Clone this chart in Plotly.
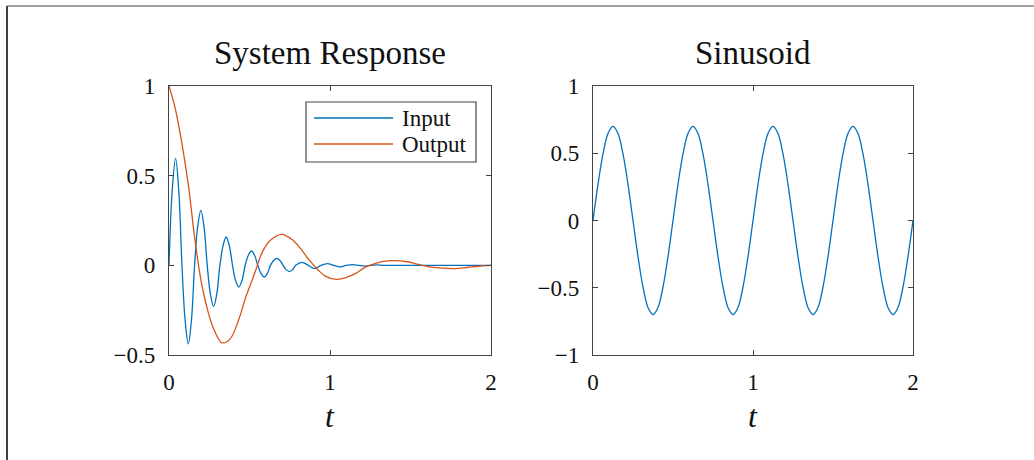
import plotly.graph_objects as go

W, H = 1034, 460

# ---------------- data ----------------
t_input = [0.000, 0.020, 0.041, 0.061, 0.0805, 0.100, 0.120, 0.140, 0.159, 0.178,
           0.198, 0.218, 0.2375, 0.257, 0.277, 0.297, 0.316, 0.336, 0.355, 0.375,
           0.3945, 0.414, 0.434, 0.454, 0.473, 0.493, 0.512, 0.532, 0.5515, 0.571,
           0.591, 0.611, 0.630, 0.650, 0.669, 0.689, 0.7085, 0.728, 0.748, 0.768,
           0.787, 0.826, 0.8655, 0.905, 0.944, 0.983, 1.0225, 1.062, 1.101, 1.140,
           1.1795, 1.219, 1.258, 1.297, 1.336, 1.500, 1.750, 2.000]
input_vals = [0.000, 0.420, 0.596, 0.410, 0.000, -0.305, -0.438, -0.300, 0.000, 0.215,
              0.307, 0.212, 0.000, -0.160, -0.229, -0.158, 0.000, 0.110, 0.158, 0.108,
              0.000, -0.085, -0.121, -0.083, 0.000, 0.056, 0.080, 0.055, 0.000, -0.045,
              -0.065, -0.045, 0.000, 0.027, 0.039, 0.027, 0.000, -0.024, -0.035, -0.024,
              0.000, 0.017, 0.000, -0.018, 0.000, 0.009, 0.000, -0.009, 0.000, 0.004,
              0.000, -0.004, 0.000, 0.002, 0.000, 0.000, 0.000, 0.000]

t_output = [0.00, 0.04, 0.08, 0.12, 0.16, 0.20, 0.24, 0.28, 0.33, 0.38, 0.43, 0.48,
            0.53, 0.58, 0.63, 0.70, 0.77, 0.82, 0.87, 0.92, 0.97, 1.04, 1.11, 1.16,
            1.22, 1.28, 1.33, 1.40, 1.48, 1.55, 1.62, 1.70, 1.77, 1.85, 1.92, 2.00]
output_vals = [1.000, 0.870, 0.680, 0.450, 0.150, -0.090, -0.250, -0.360, -0.432, -0.410,
               -0.310, -0.170, -0.050, 0.075, 0.140, 0.173, 0.140, 0.090, 0.030, -0.020,
               -0.060, -0.078, -0.065, -0.045, -0.010, 0.010, 0.022, 0.026, 0.020, 0.005,
               -0.008, -0.016, -0.018, -0.012, -0.005, 0.000]

t_sin = [0.0, 0.03125, 0.0625, 0.09375, 0.125, 0.15625, 0.1875, 0.21875,
         0.25, 0.28125, 0.3125, 0.34375, 0.375, 0.40625, 0.4375, 0.46875,
         0.5, 0.53125, 0.5625, 0.59375, 0.625, 0.65625, 0.6875, 0.71875,
         0.75, 0.78125, 0.8125, 0.84375, 0.875, 0.90625, 0.9375, 0.96875,
         1.0, 1.03125, 1.0625, 1.09375, 1.125, 1.15625, 1.1875, 1.21875,
         1.25, 1.28125, 1.3125, 1.34375, 1.375, 1.40625, 1.4375, 1.46875,
         1.5, 1.53125, 1.5625, 1.59375, 1.625, 1.65625, 1.6875, 1.71875,
         1.75, 1.78125, 1.8125, 1.84375, 1.875, 1.90625, 1.9375, 1.96875, 2.0]
sin_vals = [0.0, 0.268, 0.495, 0.647, 0.7, 0.647, 0.495, 0.268,
            0.0, -0.268, -0.495, -0.647, -0.7, -0.647, -0.495, -0.268,
            0.0, 0.268, 0.495, 0.647, 0.7, 0.647, 0.495, 0.268,
            0.0, -0.268, -0.495, -0.647, -0.7, -0.647, -0.495, -0.268,
            0.0, 0.268, 0.495, 0.647, 0.7, 0.647, 0.495, 0.268,
            0.0, -0.268, -0.495, -0.647, -0.7, -0.647, -0.495, -0.268,
            0.0, 0.268, 0.495, 0.647, 0.7, 0.647, 0.495, 0.268,
            0.0, -0.268, -0.495, -0.647, -0.7, -0.647, -0.495, -0.268, 0.0]

x_ticks = [0, 1, 2]
x_ticklabels = ["0", "1", "2"]
y1_ticks = [-0.5, 0, 0.5, 1]
y1_ticklabels = ["\u22120.5", "0", "0.5", "1"]
y2_ticks = [-1, -0.5, 0, 0.5, 1]
y2_ticklabels = ["\u22121", "\u22120.5", "0", "0.5", "1"]

titles = ["System Response", "Sinusoid"]
series_names = ["Input", "Output"]
x_label = "t"

# ---------------- style ----------------
BLUE = "#0072BD"
ORANGE = "#D95319"
AXC = "#444444"
TXT = "#111111"
SERIF = "Liberation Serif"


def px(x):
    return x / W


def py(y):
    return 1 - y / H


fig = go.Figure()
fig.add_trace(go.Scatter(x=t_input, y=input_vals, name=series_names[0], mode="lines",
                         line=dict(color=BLUE, width=1.3, shape="spline", smoothing=1.0),
                         xaxis="x", yaxis="y", showlegend=False, hoverinfo="skip"))
fig.add_trace(go.Scatter(x=t_output, y=output_vals, name=series_names[1], mode="lines",
                         line=dict(color=ORANGE, width=1.3, shape="spline", smoothing=1.0),
                         xaxis="x", yaxis="y", showlegend=False, hoverinfo="skip"))
fig.add_trace(go.Scatter(x=t_sin, y=sin_vals, name="Sinusoid", mode="lines",
                         line=dict(color=BLUE, width=1.3, shape="spline", smoothing=1.0),
                         xaxis="x2", yaxis="y2", showlegend=False, hoverinfo="skip"))

ax_common = dict(showline=True, linecolor=AXC, linewidth=1.3, mirror="allticks",
                 ticks="inside", ticklen=5, tickwidth=1, tickcolor=AXC,
                 showgrid=False, zeroline=False, automargin=False,
                 tickfont=dict(family=SERIF, size=23, color=TXT))

x1 = (169, 491)
x2 = (593, 913)
ytop, ybot = 86, 355

fig.update_layout(
    template="none",
    width=W, height=H, autosize=False,
    margin=dict(l=0, r=0, t=0, b=0, pad=0, autoexpand=False),
    paper_bgcolor="white", plot_bgcolor="white",
    showlegend=False,
    xaxis=dict(domain=[px(x1[0]), px(x1[1])], range=[0, 2], tickvals=x_ticks,
               ticktext=x_ticklabels, anchor="y", ticklabelstandoff=6, **ax_common),
    yaxis=dict(domain=[py(ybot), py(ytop)], range=[-0.5, 1], tickvals=y1_ticks,
               ticktext=y1_ticklabels, anchor="x", ticklabelstandoff=8, **ax_common),
    xaxis2=dict(domain=[px(x2[0]), px(x2[1])], range=[0, 2], tickvals=x_ticks,
                ticktext=x_ticklabels, anchor="y2", ticklabelstandoff=6, **ax_common),
    yaxis2=dict(domain=[py(ybot), py(ytop)], range=[-1, 1], tickvals=y2_ticks,
                ticktext=y2_ticklabels, anchor="x2", ticklabelstandoff=8, **ax_common),
)

annotations = []
for (xa, xb), title in zip([x1, x2], titles):
    annotations.append(dict(x=px((xa + xb) / 2), y=py(53), xref="paper", yref="paper",
                            text=title, showarrow=False, xanchor="center", yanchor="middle",
                            font=dict(family=SERIF, size=33, color=TXT)))
    annotations.append(dict(x=px((xa + xb) / 2), y=py(416), xref="paper", yref="paper",
                            text="<i>" + x_label + "</i>", showarrow=False,
                            xanchor="center", yanchor="middle",
                            font=dict(family=SERIF, size=32, color=TXT)))

# legend (manual, MATLAB style)
lg_l, lg_r, lg_t, lg_b = 306, 476, 102, 162
shapes = [
    dict(type="rect", xref="paper", yref="paper", x0=px(lg_l), x1=px(lg_r),
         y0=py(lg_b), y1=py(lg_t), line=dict(color=AXC, width=1.2), fillcolor="white",
         layer="above"),
]
for i, (name, col) in enumerate(zip(series_names, [BLUE, ORANGE])):
    yy = 118 + i * 26
    shapes.append(dict(type="line", xref="paper", yref="paper", x0=px(314), x1=px(393),
                       y0=py(yy), y1=py(yy), line=dict(color=col, width=1.3), layer="above"))
    annotations.append(dict(x=px(400), y=py(yy), xref="paper", yref="paper", text=name,
                            showarrow=False, xanchor="left", yanchor="middle",
                            font=dict(family=SERIF, size=23, color=TXT)))

# outer frame (partially visible)
shapes.append(dict(type="line", xref="paper", yref="paper", x0=px(7), x1=px(7),
                   y0=py(460), y1=py(6), line=dict(color="#404040", width=2)))
shapes.append(dict(type="line", xref="paper", yref="paper", x0=px(7), x1=px(1034),
                   y0=py(6), y1=py(6), line=dict(color="#404040", width=1.2)))

fig.update_layout(annotations=annotations, shapes=shapes)

fig.write_html("out.html",
               config={"displayModeBar": False},
               post_script="document.body.style.margin='0';"
                           "document.body.style.overflow='hidden';")
